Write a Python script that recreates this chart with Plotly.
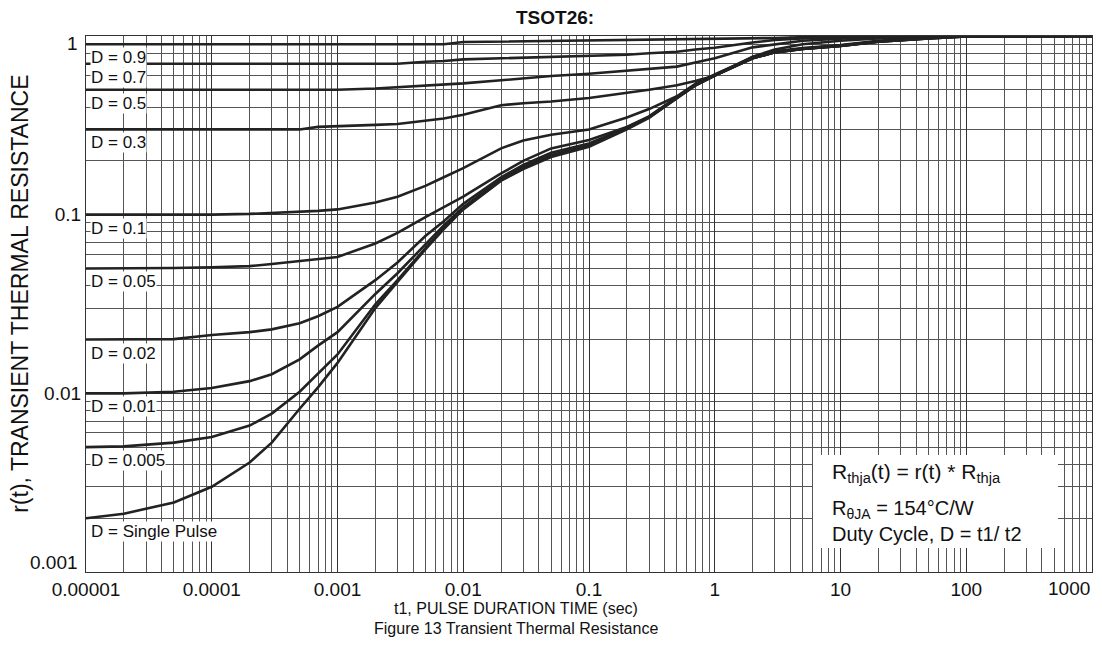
import plotly.graph_objects as go
import numpy as np

# ---------------- data ----------------
t = [1e-5, 2e-5, 5e-5, 1e-4, 2e-4, 3e-4, 5e-4, 7e-4, 1e-3, 2e-3, 3e-3, 5e-3, 7e-3,
     1e-2, 2e-2, 3e-2, 5e-2, 0.1, 0.2, 0.3, 0.5, 0.7, 1, 2, 3, 5, 10, 20, 50, 100, 1000]

r_d09 = [0.9, 0.9, 0.9, 0.9, 0.9, 0.9, 0.9, 0.9, 0.9, 0.9, 0.9, 0.9, 0.9,
         0.925, 0.93, 0.935, 0.94, 0.945, 0.95, 0.952, 0.955, 0.958, 0.96, 0.97, 0.975, 0.985, 0.99, 0.995, 1.0, 1.0, 1.0]
r_d07 = [0.7, 0.7, 0.7, 0.7, 0.7, 0.7, 0.7, 0.7, 0.7, 0.7, 0.7, 0.718, 0.725,
         0.74, 0.75, 0.755, 0.762, 0.768, 0.785, 0.8, 0.817, 0.84, 0.86, 0.92, 0.95, 0.97, 0.985, 0.995, 1.0, 1.0, 1.0]
r_d05 = [0.5, 0.5, 0.5, 0.5, 0.5, 0.5, 0.5, 0.5, 0.5, 0.508, 0.516, 0.525, 0.535,
         0.543, 0.565, 0.58, 0.597, 0.615, 0.64, 0.655, 0.674, 0.71, 0.75, 0.864, 0.9, 0.94, 0.965, 0.99, 1.0, 1.0, 1.0]
r_d03 = [0.3, 0.3, 0.3, 0.3, 0.3, 0.3, 0.3, 0.31, 0.312, 0.318, 0.322, 0.335, 0.345,
         0.362, 0.41, 0.42, 0.43, 0.45, 0.48, 0.5, 0.53, 0.56, 0.6, 0.766, 0.84, 0.9, 0.94, 0.97, 0.99, 1.0, 1.0]
r_d01 = [0.1, 0.1, 0.1, 0.1, 0.101, 0.102, 0.104, 0.105, 0.107, 0.117, 0.126, 0.145, 0.162,
         0.182, 0.235, 0.26, 0.28, 0.3, 0.35, 0.39, 0.46, 0.54, 0.61, 0.76, 0.82, 0.855, 0.89, 0.94, 0.978, 0.998, 1.0]
r_d005 = [0.05, 0.05, 0.0503, 0.0508, 0.0515, 0.053, 0.055, 0.056, 0.058, 0.069, 0.079, 0.097, 0.11,
          0.126, 0.17, 0.2, 0.235, 0.262, 0.31, 0.355, 0.455, 0.535, 0.605, 0.755, 0.815, 0.85, 0.885, 0.935, 0.975, 0.997, 1.0]
r_d002 = [0.02, 0.02, 0.0201, 0.0212, 0.022, 0.0228, 0.0247, 0.027, 0.0305, 0.043, 0.054, 0.076, 0.092,
          0.115, 0.162, 0.19, 0.222, 0.25, 0.307, 0.352, 0.452, 0.532, 0.602, 0.752, 0.812, 0.848, 0.883, 0.932, 0.972, 0.996, 1.0]
r_d001 = [0.01, 0.01, 0.0102, 0.0107, 0.0117, 0.0128, 0.0155, 0.0185, 0.022, 0.036, 0.047, 0.068, 0.087,
          0.11, 0.158, 0.185, 0.216, 0.245, 0.305, 0.35, 0.45, 0.53, 0.6, 0.75, 0.81, 0.845, 0.88, 0.93, 0.97, 0.995, 1.0]
r_d0005 = [0.005, 0.00505, 0.0053, 0.0057, 0.0066, 0.0077, 0.0102, 0.0128, 0.0165, 0.0315, 0.043, 0.065, 0.084,
           0.108, 0.156, 0.182, 0.213, 0.243, 0.303, 0.35, 0.45, 0.53, 0.6, 0.75, 0.81, 0.845, 0.88, 0.93, 0.97, 0.995, 1.0]
r_single = [0.002, 0.00212, 0.00245, 0.003, 0.0041, 0.0053, 0.0082, 0.0108, 0.0148, 0.03, 0.042, 0.064, 0.083,
            0.107, 0.155, 0.18, 0.21, 0.24, 0.3, 0.348, 0.448, 0.528, 0.6, 0.75, 0.81, 0.845, 0.88, 0.93, 0.97, 0.995, 1.0]

series = [r_d09, r_d07, r_d05, r_d03, r_d01, r_d005, r_d002, r_d001, r_d0005, r_single]
d_values = [0.9, 0.7, 0.5, 0.3, 0.1, 0.05, 0.02, 0.01, 0.005, 0.002]
d_labels = ["D = 0.9", "D = 0.7", "D = 0.5", "D = 0.3", "D = 0.1", "D = 0.05",
            "D = 0.02", "D = 0.01", "D = 0.005", "D = Single Pulse"]

# axis labels (inner ticks drawn by the axis, edge ticks placed inside the frame)
x_tickvals = [1e-5, 1e-4, 1e-3, 1e-2, 1e-1, 1, 10, 100]
x_ticktext = ["0.00001", "0.0001", "0.001", "0.01", "0.1", "1", "10", "100"]
x_edge_val, x_edge_text = 1000, "1000"
y_tickvals = [0.01, 0.1]
y_ticktext = ["0.01", "0.1"]
y_edge = [(1, "1", "top", 5), (0.001, "0.001", "bottom", -3)]

FONT = "Liberation Sans, Arial, Helvetica, sans-serif"
INK = "#222222"
TXT = "#111111"

fig = go.Figure()
for r, lab in zip(series, d_labels):
    fig.add_trace(go.Scatter(x=t, y=r, mode="lines", name=lab,
                             line=dict(color=INK, width=2.6), showlegend=False,
                             hoverinfo="skip"))

# Duty-cycle labels sitting just below each curve's starting level
for dv, lab in zip(d_values, d_labels):
    fig.add_annotation(x=0.004, xref="paper", xanchor="left",
                       y=np.log10(dv), yref="y", yanchor="top", yshift=-3,
                       text=lab, showarrow=False, bgcolor="white", borderpad=0,
                       font=dict(family=FONT, size=17, color=TXT))

grid_common = dict(showgrid=True, gridcolor="#333333", gridwidth=1,
                   minor=dict(dtick="D1", showgrid=True, gridcolor="#555555", gridwidth=1, ticks=""),
                   showline=True, linecolor="#333", linewidth=1.2, mirror=True,
                   ticks="", zeroline=False)

fig.update_xaxes(type="log", range=[-5, 3], tickvals=x_tickvals, ticktext=x_ticktext,
                 tickfont=dict(family=FONT, size=19, color=TXT), **grid_common)
fig.update_yaxes(type="log", range=[-3, 0], tickvals=y_tickvals, ticktext=y_ticktext,
                 tickfont=dict(family=FONT, size=19, color=TXT), **grid_common)

# edge tick labels kept inside the figure like the original
fig.add_annotation(x=np.log10(x_edge_val), xref="x", xanchor="right", y=0, yref="paper",
                   yanchor="top", yshift=-4, text=x_edge_text, showarrow=False,
                   font=dict(family=FONT, size=19, color=TXT))
for val, txt, anc, sh in y_edge:
    fig.add_annotation(x=0, xref="paper", xanchor="right", xshift=-6, y=np.log10(val), yref="y",
                       yanchor=anc, yshift=sh, text=txt, showarrow=False,
                       font=dict(family=FONT, size=19, color=TXT))

# info box (white panel over the grid)
fig.add_shape(type="rect", xref="paper", yref="paper", x0=0.7227, x1=0.9662, y0=0.0448, y1=0.2183,
              fillcolor="white", line=dict(width=0), layer="above")
fig.add_annotation(x=0.7396, xref="paper", xanchor="left", y=0.1847, yref="paper", yanchor="middle",
                   text="R<sub>thja</sub>(t) = r(t) * R<sub>thja</sub>", showarrow=False,
                   font=dict(family=FONT, size=21, color=TXT))
fig.add_annotation(x=0.7396, xref="paper", xanchor="left", y=0.095, yref="paper", yanchor="middle",
                   text="R<sub>θJA</sub> = 154°C/W<br>Duty Cycle, D = t1/ t2", showarrow=False,
                   align="left", font=dict(family=FONT, size=20, color=TXT))

# title and axis titles
fig.add_annotation(x=0.466, xref="paper", y=1, yref="paper", yanchor="bottom", yshift=6,
                   text="<b>TSOT26:</b>", showarrow=False, font=dict(family=FONT, size=19, color=TXT))
fig.add_annotation(x=-0.0656, xref="paper", xanchor="center", y=0.519, yref="paper", yanchor="middle",
                   textangle=-90, text="r(t), TRANSIENT THERMAL RESISTANCE", showarrow=False,
                   font=dict(family=FONT, size=23, color=TXT))
fig.add_annotation(x=0.4274, xref="paper", xanchor="center", y=0, yref="paper", yanchor="middle",
                   yshift=-36, text="t1, PULSE DURATION TIME (sec)", showarrow=False,
                   font=dict(family=FONT, size=16, color=TXT))
fig.add_annotation(x=0.4274, xref="paper", xanchor="center", y=0, yref="paper", yanchor="middle",
                   yshift=-56, text="Figure 13 Transient Thermal Resistance", showarrow=False,
                   font=dict(family=FONT, size=16, color=TXT))

fig.update_layout(width=1102, height=662, margin=dict(l=86, r=10, t=36, b=90),
                  paper_bgcolor="white", plot_bgcolor="white", showlegend=False)

fig.write_html("out.html")
